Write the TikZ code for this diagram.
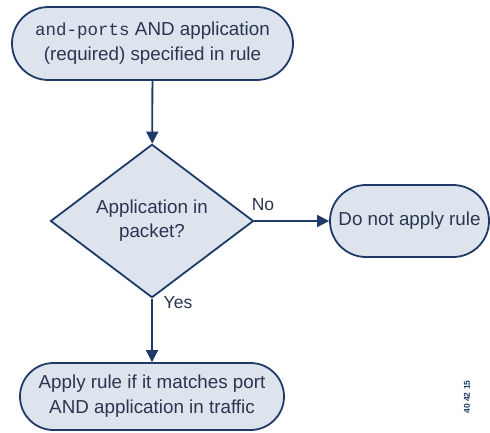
\documentclass[tikz,border=0pt]{standalone}
\usepackage{fontspec}
\setmainfont{Liberation Sans}
\setmonofont{Liberation Mono}
\usetikzlibrary{shapes.geometric,shapes.misc,arrows.meta}
\definecolor{flowline}{HTML}{1F3A66}
\definecolor{flowfill}{HTML}{DDE4EE}
\definecolor{flowtext}{HTML}{2A3550}
\begin{document}
\begin{tikzpicture}[x=1pt,y=-1pt]
% styles for the chart
\tikzset{terminal/.style={rounded rectangle,draw=flowline,fill=flowfill,line width=1.8pt,
    inner sep=0pt,align=center,text=flowtext,font=\fontsize{18.8}{25}\selectfont},
  decision/.style={diamond,draw=flowline,fill=flowfill,line width=1.8pt,inner sep=0pt,
    minimum width=203pt,minimum height=149pt,align=center,text=flowtext,
    font=\fontsize{18.8}{24}\selectfont},
  flow/.style={draw=flowline,line width=1.8pt,-{Triangle[length=12pt,width=12pt]}},
  answer/.style={text=flowtext,font=\fontsize{17.5}{20}\selectfont}}
\useasboundingbox (0,0) rectangle (490,432);
% the boxes
\node (start) at (152.5,43.5) [terminal,minimum width=281pt,minimum height=73pt]
  {{\fontsize{17.5}{25}\selectfont\ttfamily and-ports} AND application\\(required) specified in rule};
\node (check) at (152,221) [decision] {Application in\\packet?};
\node (noapply) at (409.5,221) [terminal,minimum width=159pt,minimum height=72pt]
  {Do not apply rule};
\node (apply) at (152,396.5) [terminal,minimum width=264pt,minimum height=67pt]
  {Apply rule if it matches port\\AND application in traffic};
% the arrows
\draw[flow] (start) -- (check);
\draw[flow] (check.east) -- (noapply.west);
\draw[flow] (check.south) -- (apply.north);
% the answers
\node (no) at (263,205) [answer] {No};
\node (yes) at (178,303) [answer] {Yes};
% figure number
\node (figno) at (467,397) [rotate=90,text=flowline,font=\fontsize{8.5}{8}\selectfont\bfseries] {40 42 15};
\end{tikzpicture}
\end{document}
